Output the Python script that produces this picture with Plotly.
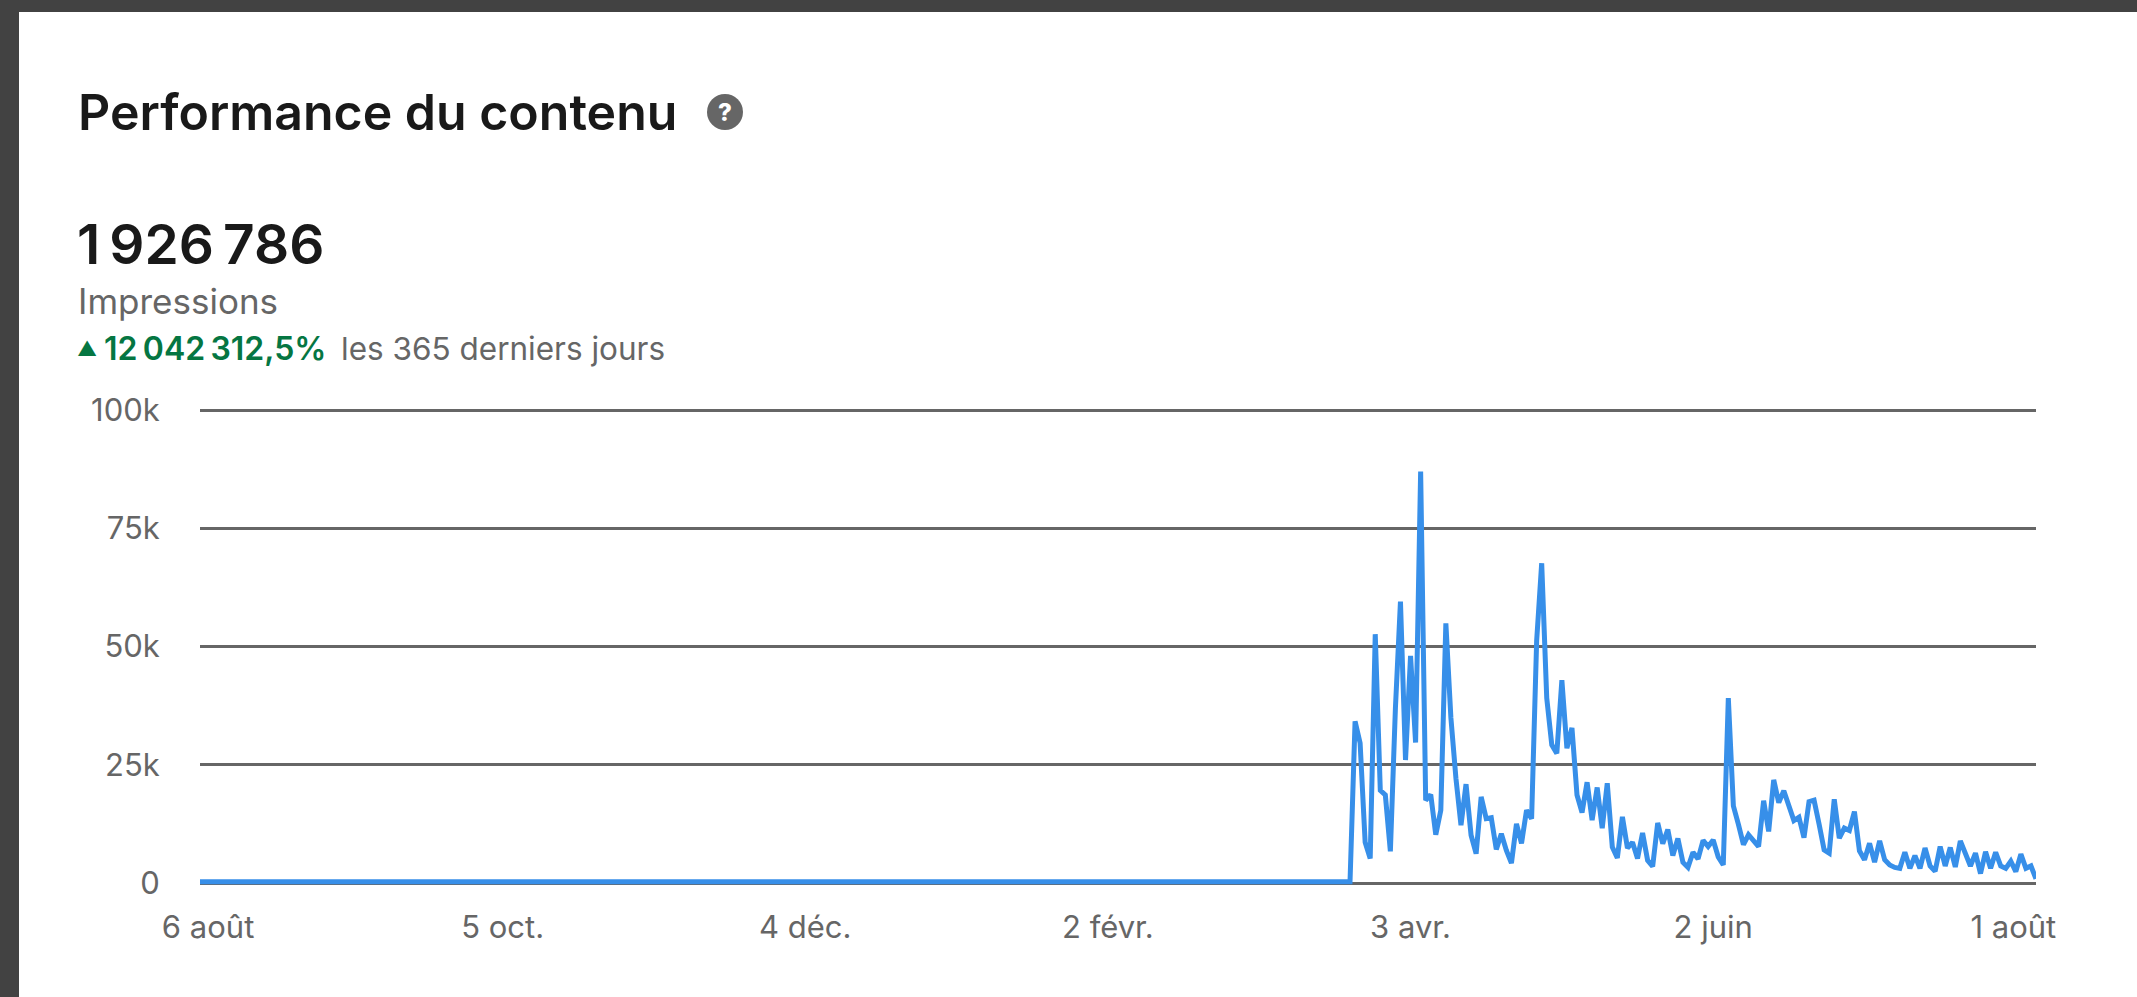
import plotly.graph_objects as go

# ---- data ----
y_tick_values = [0, 25000, 50000, 75000, 100000]
y_tick_labels = ["0", "25k", "50k", "75k", "100k"]
x_tick_days = [1.6, 60, 120, 180, 240, 300, 359.5]
x_tick_labels = ["6 août", "5 oct.", "4 déc.", "2 févr.", "3 avr.", "2 juin", "1 août"]
quiet_days = [0, 228]
quiet_values = [250, 250]
first_active_day = 229
active_k = [
    34.2, 29.6, 8.6, 5.2, 52.6, 19.6, 18.6, 6.7, 37.0, 59.5, 26.0, 48.0, 29.7, 87.0, 17.5, 18.7,
    10.2, 15.4, 54.9, 34.9, 22.1, 12.2, 20.9, 10.1, 6.2, 18.2, 13.6, 13.8, 7.1, 10.4, 6.9, 4.2,
    12.5, 8.4, 15.4, 13.6, 51.2, 67.6, 39.1, 29.2, 27.4, 42.9, 28.5, 32.8, 18.6, 14.9, 21.3, 13.3,
    20.2, 11.6, 21.1, 7.6, 5.3, 14.0, 7.4, 8.6, 5.2, 10.6, 4.8, 3.5, 12.7, 8.3, 11.3, 5.8,
    9.4, 4.4, 3.3, 6.5, 5.1, 9.0, 7.7, 9.1, 5.5, 3.8,
    39.1, 16.3, 12.4, 8.1, 10.2, 8.8, 7.7, 17.4, 10.9, 21.8, 17.0, 19.5, 15.9, 13.2, 13.9, 9.6,
    17.2, 17.5, 12.4, 7.0, 6.3, 17.7, 9.5, 11.6, 11.1, 15.1, 6.8, 4.9, 8.4, 4.4, 8.9, 4.9,
    3.8, 3.3, 3.1, 6.5, 3.1, 5.8, 3.1, 7.4, 3.6, 2.5, 7.7, 3.6, 7.5, 3.4, 8.9, 6.3,
    3.6, 6.3, 2.0, 6.6, 3.1, 6.5, 3.6, 3.1, 4.6, 2.4, 6.1, 3.1, 3.6, 0.9,
]
title_text = "Performance du contenu"
total_text = "1\u202f926\u202f786"
metric_text = "Impressions"
delta_text = "12\u202f042\u202f312,5%"
period_text = "les 365 derniers jours"

# ---- layout constants ----
W, H = 2137, 997
L, R = 200, 2036
ZERO_Y, TOP_Y = 883, 410      # pixel rows of the 0 and 100k grid lines
PAD = 5                       # extra plot height so the edge grid lines are drawn
T, B = TOP_Y - PAD, ZERO_Y + PAD
FONT = "Inter"
DARK = "#191919"
GREY = "#666666"
GREEN = "#057642"


def px(x):
    return (x - L) / (R - L)


def py(y):
    return (B - y) / (B - T)


active_days = [first_active_day + i for i in range(len(active_k))]
active_values = [v * 1000 for v in active_k]
y_pad = PAD * 100000 / (ZERO_Y - TOP_Y)

fig = go.Figure(
    go.Scatter(
        x=quiet_days + active_days,
        y=quiet_values + active_values,
        mode="lines",
        line=dict(color="#378fe9", width=5),
        cliponaxis=False,
        hoverinfo="skip",
    )
)


def text(x, y, s, size, color, weight=400, anchor="left"):
    fig.add_annotation(
        xref="paper", yref="paper", x=px(x), y=py(y), text=s, showarrow=False,
        xanchor=anchor, yanchor="middle", align="left",
        font=dict(family=FONT, size=size, color=color, weight=weight),
    )


text(76, 112, title_text, 50, DARK, 600)
text(75, 244, total_text, 55, DARK, 600)
text(76, 301, metric_text, 35, GREY)
text(75, 349, "▲", 20, GREEN)
text(102, 349, delta_text, 32, GREEN, 600)
text(339, 349, period_text, 31.5, GREY)
text(725, 112, "?", 24, "#ffffff", 800, "center")

fig.update_layout(
    width=W, height=H, autosize=False,
    margin=dict(l=L, r=W - R, t=T, b=H - B, pad=0),
    paper_bgcolor="#424242",
    plot_bgcolor="rgba(0,0,0,0)",
    showlegend=False,
    xaxis=dict(
        range=[0, 364], tickmode="array", tickvals=x_tick_days, ticktext=x_tick_labels,
        showgrid=False, zeroline=False, showline=False, ticks="outside", ticklen=12,
        tickcolor="rgba(0,0,0,0)", tickfont=dict(family=FONT, size=31, color=GREY),
    ),
    yaxis=dict(
        range=[-y_pad, 100000 + y_pad], tickmode="array", tickvals=y_tick_values,
        ticktext=y_tick_labels,
        showgrid=True, gridcolor="#666666", gridwidth=2.5, zeroline=False, showline=False,
        ticks="outside", ticklen=33, tickcolor="rgba(0,0,0,0)",
        tickfont=dict(family=FONT, size=31, color=GREY),
    ),
    shapes=[
        dict(type="rect", xref="paper", yref="paper", layer="below",
             x0=px(19), x1=px(W + 5), y0=py(H + 5), y1=py(12),
             fillcolor="#ffffff", line=dict(width=0)),
        dict(type="circle", xref="paper", yref="paper", layer="above",
             x0=px(707), x1=px(743), y0=py(130), y1=py(94),
             fillcolor=GREY, line=dict(width=0)),
    ],
)

fig.write_html(
    "out.html",
    config=dict(displayModeBar=False),
    post_script="document.body.style.margin='0';document.body.style.overflow='hidden';",
)
